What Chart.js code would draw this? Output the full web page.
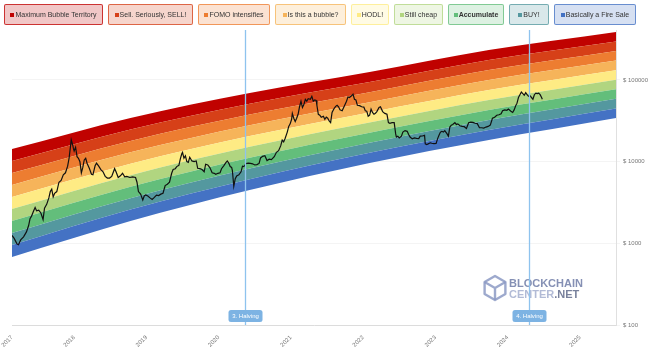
<!DOCTYPE html>
<html><head><meta charset="utf-8">
<script src="https://cdn.jsdelivr.net/npm/chart.js@4.4.1/dist/chart.umd.min.js"></script>
<style>
html,body{margin:0;padding:0;background:#fff;}
#wrap{position:relative;width:650px;height:356px;overflow:hidden;}
#c{position:absolute;left:0;top:0;}
#legend{position:absolute;left:4px;top:4px;display:flex;font-family:"Liberation Sans",Arial,sans-serif;font-size:7px;color:#333;}
.lg{box-sizing:border-box;height:21px;border:1.5px solid;border-radius:2px;display:flex;align-items:center;justify-content:center;margin-right:5px;white-space:nowrap;}
.lg i{display:inline-block;width:4px;height:4px;margin-right:1px;}
</style></head>
<body>
<div id="wrap">
<canvas id="c" width="650" height="356"></canvas>
<div id="legend"></div>
</div>
<script>
// ---- data ----
const bandNames = ["Maximum Bubble Territory","Sell. Seriously, SELL!","FOMO intensifies","Is this a bubble?","HODL!","Still cheap","Accumulate","BUY!","Basically a Fire Sale"];
const bandColors = ["#c00200","#d64018","#ed7d31","#f6b45a","#feeb84","#b1d580","#63be7b","#54989f","#4472c4"];
const bandYears = [2017.14, 2018.78, 2020.43, 2022.09, 2023.74, 2025.5];
// band boundaries, bottom (b0) to top (b9)
const b0 = [681, 1875, 4498, 9638, 18408, 34277];
const b1 = [955, 2588, 6095, 12823, 24378, 44875];
const b2 = [1340, 3573, 8260, 17061, 32359, 58749];
const b3 = [1879, 4943, 11194, 22646, 42855, 76913];
const b4 = [2636, 6823, 15171, 30130, 56885, 100693];
const b5 = [3698, 9419, 20559, 40087, 75336, 131826];
const b6 = [5176, 13002, 27861, 53333, 99770, 172584];
const b7 = [7261, 17947, 37757, 70958, 132434, 225944];
const b8 = [10186, 24831, 51168, 94189, 175388, 295801];
const b9 = [14289, 34277, 69343, 125314, 232810, 387258];
const bandBounds = [b0,b1,b2,b3,b4,b5,b6,b7,b8,b9];

const priceDates = [
2017.14,2017.17,2017.21,2017.23,2017.26,2017.30,2017.34,2017.37,2017.39,2017.41,2017.44,2017.46,2017.48,2017.51,2017.54,2017.57,2017.59,2017.62,2017.65,2017.67,2017.69,2017.71,2017.73,2017.76,2017.79,2017.82,2017.85,2017.88,2017.91,2017.93,2017.95,2017.96,2017.98,2017.99,
2018.00,2018.02,2018.04,2018.06,2018.08,2018.10,2018.12,2018.14,2018.16,2018.18,2018.21,2018.24,2018.26,2018.29,2018.31,2018.34,2018.37,2018.40,2018.43,2018.46,2018.49,2018.52,2018.56,2018.58,2018.61,2018.64,2018.67,2018.70,2018.73,2018.77,2018.81,2018.85,2018.87,2018.89,2018.92,2018.95,2018.97,2018.99,
2019.02,2019.05,2019.08,2019.11,2019.14,2019.17,2019.20,2019.23,2019.26,2019.29,2019.32,2019.35,2019.37,2019.40,2019.42,2019.45,2019.47,2019.49,2019.50,2019.52,2019.54,2019.56,2019.58,2019.60,2019.63,2019.66,2019.69,2019.71,2019.74,2019.77,2019.80,2019.82,2019.85,2019.88,2019.91,2019.94,2019.96,2019.99,
2020.02,2020.04,2020.07,2020.10,2020.12,2020.14,2020.16,2020.18,2020.19,2020.21,2020.23,2020.25,2020.28,2020.31,2020.33,2020.35,2020.38,2020.41,2020.44,2020.47,2020.50,2020.53,2020.56,2020.58,2020.61,2020.64,2020.67,2020.70,2020.73,2020.77,2020.80,2020.83,2020.86,2020.88,2020.90,2020.92,2020.95,2020.97,2020.99,
2021.01,2021.02,2021.04,2021.06,2021.08,2021.10,2021.12,2021.14,2021.16,2021.18,2021.20,2021.22,2021.24,2021.27,2021.29,2021.31,2021.33,2021.35,2021.36,2021.38,2021.40,2021.42,2021.45,2021.47,2021.49,2021.51,2021.53,2021.55,2021.57,2021.60,2021.62,2021.64,2021.66,2021.68,2021.71,2021.74,2021.77,2021.79,2021.81,2021.84,2021.86,2021.88,2021.90,2021.92,2021.95,2021.98,
2022.01,2022.03,2022.05,2022.07,2022.09,2022.11,2022.13,2022.15,2022.17,2022.19,2022.22,2022.24,2022.27,2022.30,2022.33,2022.35,2022.37,2022.40,2022.43,2022.45,2022.46,2022.48,2022.50,2022.53,2022.55,2022.58,2022.61,2022.63,2022.65,2022.68,2022.71,2022.74,2022.77,2022.79,2022.82,2022.85,2022.86,2022.88,2022.90,2022.93,2022.95,2022.98,
2023.01,2023.03,2023.05,2023.07,2023.09,2023.11,2023.13,2023.16,2023.18,2023.20,2023.22,2023.24,2023.27,2023.29,2023.31,2023.34,2023.37,2023.40,2023.43,2023.46,2023.49,2023.52,2023.55,2023.58,2023.61,2023.64,2023.67,2023.70,2023.73,2023.76,2023.79,2023.82,2023.85,2023.88,2023.91,2023.93,2023.96,2023.99,
2024.01,2024.03,2024.05,2024.07,2024.09,2024.11,2024.13,2024.15,2024.17,2024.19,2024.21,2024.23,2024.25,2024.27,2024.29,2024.31,2024.33,2024.35,2024.37,2024.39,2024.41,2024.43,2024.45,2024.47,2024.48];
const priceValues = [
1250,1150,980,960,1100,1200,1380,1650,2000,2150,2500,2750,2500,2550,2350,1950,2700,3000,3600,4300,4600,3700,4100,4300,5600,5900,6900,7300,8800,11000,15500,18500,16000,14500,
13500,15000,11500,11000,10000,7300,8500,10500,11000,9500,8300,7000,6900,8900,9600,8800,8000,7500,6600,6300,6300,6600,8200,7500,6400,6700,7200,6500,6600,6400,6500,6400,5600,4300,4000,3400,3800,3900,
3800,3600,3450,3650,3900,3850,4000,4100,5100,5300,5600,7200,8000,8200,8700,9000,10800,12500,13000,11000,11800,10000,9800,11300,10200,10000,10200,8300,8200,8000,7500,9300,9100,8400,7300,7200,7000,7200,
7300,8200,8900,9700,10200,9600,8700,8500,7800,5000,6200,6700,6900,7500,8800,8700,9500,9600,9500,9400,9100,9200,9500,11100,11600,11800,10300,10700,10600,11500,13000,13600,15700,18400,17500,19200,23000,27000,29000,
33000,39000,34000,31000,34000,38000,47000,55000,46000,50000,58000,55000,59000,58000,63000,55000,57000,56000,49000,38000,37000,35000,36000,33000,35000,34000,31500,30000,40000,45000,47500,49000,47000,43000,42000,48000,55000,62000,61000,64000,67000,58000,57000,49000,48500,47000,
46500,42000,41500,36000,37000,44000,40000,38000,39000,41000,46000,47000,41000,39000,38000,30000,29500,30000,30000,22000,20000,20500,19500,20500,23000,24000,23500,21500,20000,19000,19500,19300,19200,20500,20600,21000,16500,16200,16500,17000,16800,16600,
16700,19000,21000,23000,23500,23000,24000,22000,20500,26500,28000,28500,30000,28500,29000,27500,27000,26800,25500,30000,30500,30200,29500,29200,26000,26000,25800,26500,27000,28000,34000,35000,37000,37500,38500,42000,43000,42500,
44000,42500,41000,40000,43000,48000,52000,61000,66000,71000,68000,65000,70000,66000,63000,64000,61000,58000,66000,69000,68000,69000,66000,61000,58000];

const yTicks = [100, 1000, 10000, 100000];
const xTickValues = [2017.14, 2018, 2019, 2020, 2021, 2022, 2023, 2024, 2025];
const xTickLabels = ["2017","2018","2019","2020","2021","2022","2023","2024","2025"];
const halvingDates = [2020.36, 2024.30];
const halvingLabels = ["3. Halving", "4. Halving"];

// ---- legend (HTML) ----
const legendWidths = [99, 85, 72, 71, 38, 49, 56, 40, 82];
function hexA(h, a){const n=parseInt(h.slice(1),16);return `rgba(${n>>16},${(n>>8)&255},${n&255},${a})`;}
const lg = document.getElementById('legend');
bandNames.forEach((name,i)=>{
  const d=document.createElement('div');
  d.className='lg';
  d.style.width=legendWidths[i]+'px';
  d.style.borderColor=hexA(bandColors[i],0.75);
  d.style.background=hexA(bandColors[i],0.22);
  if(name==='Accumulate') d.style.fontWeight='bold';
  const sq=document.createElement('i'); sq.style.background=bandColors[i];
  d.appendChild(sq); d.appendChild(document.createTextNode(name));
  lg.appendChild(d);
});

// ---- datasets ----
const datasets = [{
  label:'BTC', data: priceDates.map((x,i)=>({x, y: priceValues[i]})),
  borderColor:'#111', borderWidth:1.2, pointRadius:0, fill:false, tension:0, order:0
}];
bandBounds.forEach((arr,i)=>{
  datasets.push({
    label:'b'+i, data: bandYears.map((x,j)=>({x, y: arr[j]})),
    borderWidth:0, borderColor:'rgba(0,0,0,0)', pointRadius:0,
    cubicInterpolationMode:'monotone',
    fill: i===0 ? false : '-1',
    backgroundColor: i===0 ? 'rgba(0,0,0,0)' : bandColors[9-i],
    order:1
  });
});

const FONT = '"Liberation Sans", Arial, sans-serif';

const watermark = {
  id:'watermark',
  afterDatasetsDraw(chart){
    const c=chart.ctx; c.save();
    const cx=495, cy=288, r=12;
    c.strokeStyle='rgba(140,154,196,0.85)'; c.lineWidth=2.4; c.lineJoin='round';
    c.beginPath();
    for(let k=0;k<6;k++){const a=Math.PI/6+k*Math.PI/3; const px=cx+r*Math.cos(a), py=cy+r*Math.sin(a); k?c.lineTo(px,py):c.moveTo(px,py);}
    c.closePath(); c.stroke();
    c.beginPath();
    c.moveTo(cx-r*0.87,cy-r*0.5); c.lineTo(cx,cy); c.lineTo(cx+r*0.87,cy-r*0.5);
    c.moveTo(cx,cy); c.lineTo(cx,cy+r);
    c.stroke();
    c.font='bold 11px '+FONT; c.textBaseline='alphabetic';
    c.fillStyle='rgba(120,132,172,0.9)'; c.fillText('BLOCKCHAIN',509,287);
    c.fillStyle='rgba(170,180,210,0.9)'; c.fillText('CENTER',509,298);
    const w=c.measureText('CENTER').width;
    c.fillStyle='rgba(105,115,145,0.9)'; c.fillText('.NET',509+w,298);
    c.restore();
  }
};
const halving = {
  id:'halving',
  afterDatasetsDraw(chart){
    const c=chart.ctx, xs=chart.scales.x, a=chart.chartArea; c.save();
    halvingDates.forEach((d,i)=>{
      const x=Math.round(xs.getPixelForValue(d))+0.5;
      c.strokeStyle='#8ec3ee'; c.lineWidth=1.3;
      c.beginPath(); c.moveTo(x,a.top); c.lineTo(x,a.bottom); c.stroke();
      const bw=34,bh=12,bx=x-bw/2,by=a.bottom-15;
      c.fillStyle='#7db3e3';
      c.beginPath(); c.roundRect(bx,by,bw,bh,2.5); c.fill();
      c.fillStyle='#fff'; c.font='6px '+FONT; c.textAlign='center'; c.textBaseline='middle';
      c.fillText(halvingLabels[i],x,by+bh/2+0.5);
    });
    c.restore();
  }
};

new Chart(document.getElementById('c'),{
  type:'line',
  data:{datasets},
  options:{
    responsive:false, animation:false, maintainAspectRatio:false,
    layout:{padding:{top:30,left:12,right:0,bottom:0}},
    plugins:{legend:{display:false},tooltip:{enabled:false}},
    scales:{
      x:{type:'linear', min:2017.14, max:2025.5,
        grid:{drawOnChartArea:false, drawTicks:false},
        border:{display:true,color:'#dcdcdc'},
        afterBuildTicks(s){ s.ticks = xTickValues.map(v=>({value:v})); },
        afterFit(s){ s.height = 31; s.paddingLeft = 0; s.paddingRight = 0; },
        ticks:{autoSkip:false, minRotation:45, maxRotation:45, padding:9, color:'#777',
          font:{family:FONT,size:6},
          callback:(v,i)=>xTickLabels[i]}
      },
      y:{type:'logarithmic', position:'right', min:100, max:409000,
        grid:{color:'rgba(0,0,0,0.045)', tickLength:4},
        border:{display:true,color:'#e0e0e0'},
        afterBuildTicks(s){ s.ticks = yTicks.map(v=>({value:v})); },
        afterFit(s){ s.width = 34; s.paddingTop = 0; s.paddingBottom = 0; },
        ticks:{padding:3, color:'#777', font:{family:FONT,size:6},
          callback:(v)=>'$ '+v}
      }
    }
  },
  plugins:[watermark, halving]
});
</script>
</body></html>
